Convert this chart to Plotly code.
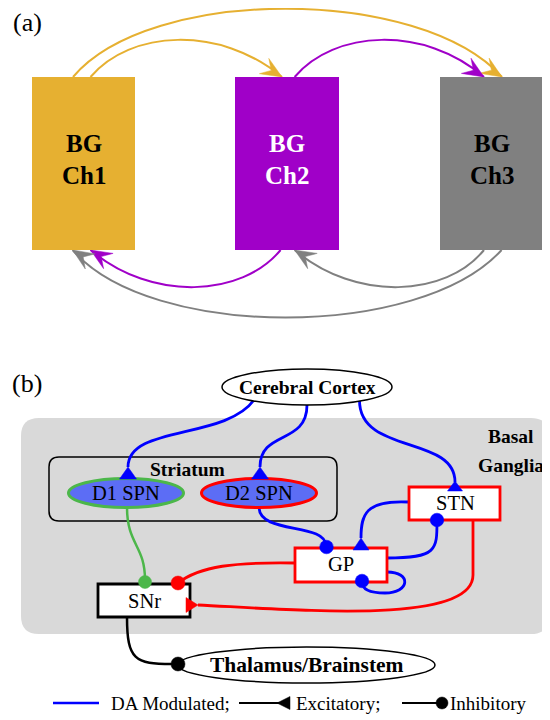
import math
import plotly.graph_objects as go

# ---------------- data ----------------
panel_labels = ["(a)", "(b)"]
channel_names = ["Ch1", "Ch2", "Ch3"]
channel_colors = ["#E6B031", "#A000C8", "#808080"]
channel_text_colors = ["#000000", "#FFFFFF", "#000000"]
# cross-channel projections: (source index, target index, colour index)
projections_top = [(0, 2, 0), (0, 1, 0), (1, 2, 1)]
projections_bottom = [(1, 0, 1), (2, 1, 2), (2, 0, 2)]

node_labels = ["Cerebral Cortex", "Striatum", "D1 SPN", "D2 SPN", "STN", "GP", "SNr",
               "Thalamus/Brainstem"]
region_label = ["Basal", "Ganglia"]
legend_labels = ["DA Modulated;", "Excitatory;", "Inhibitory"]

FONT = "Liberation Serif"
BLUE = "#0000FF"
RED = "#FF0000"
GREEN = "#4CB74A"
BLACK = "#000000"
SPN_FILL = "#5C6DF5"

# the page body has an 8px default margin: shift the coordinate frame so that
# coordinates equal window pixels
OFF = 8

shapes = []
annotations = []


def add_path(d, color, width, fill=None):
    s = dict(type="path", path=d, xref="x", yref="y",
             line=dict(color=color, width=width))
    if fill:
        s["fillcolor"] = fill
    shapes.append(s)


def bez_path(p, move=True):
    s = "C %.1f,%.1f %.1f,%.1f %.1f,%.1f" % (
        p[1][0], p[1][1], p[2][0], p[2][1], p[3][0], p[3][1])
    if move:
        s = "M %.1f,%.1f " % p[0] + s
    return s


def bez_pt(p, t):
    a = (1 - t) ** 3
    b = 3 * (1 - t) ** 2 * t
    c = 3 * (1 - t) * t ** 2
    d = t ** 3
    return (a * p[0][0] + b * p[1][0] + c * p[2][0] + d * p[3][0],
            a * p[0][1] + b * p[1][1] + c * p[2][1] + d * p[3][1])


def stealth(tip, frm, color, L=21, W=9, notch=0.6):
    dx, dy = tip[0] - frm[0], tip[1] - frm[1]
    n = math.hypot(dx, dy)
    dx, dy = dx / n, dy / n
    nx, ny = -dy, dx
    pts = [tip,
           (tip[0] - L * dx + W * nx, tip[1] - L * dy + W * ny),
           (tip[0] - notch * L * dx, tip[1] - notch * L * dy),
           (tip[0] - L * dx - W * nx, tip[1] - L * dy - W * ny)]
    d = "M " + " L ".join("%.1f,%.1f" % q for q in pts) + " Z"
    shapes.append(dict(type="path", path=d, xref="x", yref="y",
                       fillcolor=color, line=dict(color=color, width=0.5)))


def tri(apex, base_c, hw, color):
    dx, dy = base_c[0] - apex[0], base_c[1] - apex[1]
    n = math.hypot(dx, dy)
    nx, ny = -dy / n, dx / n
    pts = [apex, (base_c[0] + hw * nx, base_c[1] + hw * ny),
           (base_c[0] - hw * nx, base_c[1] - hw * ny)]
    d = "M " + " L ".join("%.1f,%.1f" % q for q in pts) + " Z"
    shapes.append(dict(type="path", path=d, xref="x", yref="y",
                       fillcolor=color, line=dict(color=color, width=0.5)))


def dot(c, r, color):
    shapes.append(dict(type="circle", xref="x", yref="y",
                       x0=c[0] - r, x1=c[0] + r, y0=c[1] - r, y1=c[1] + r,
                       fillcolor=color, line=dict(color=color, width=0.5)))


def ellipse(cx, cy, rx, ry, fill, color, width):
    shapes.append(dict(type="circle", xref="x", yref="y",
                       x0=cx - rx, x1=cx + rx, y0=cy - ry, y1=cy + ry,
                       fillcolor=fill, line=dict(color=color, width=width)))


def rect(x0, y0, x1, y1, fill, color, width):
    shapes.append(dict(type="rect", xref="x", yref="y", x0=x0, x1=x1, y0=y0, y1=y1,
                       fillcolor=fill, line=dict(color=color, width=width)))


def rrect(x0, y0, x1, y1, r):
    return ("M %g,%g L %g,%g Q %g,%g %g,%g L %g,%g Q %g,%g %g,%g L %g,%g Q %g,%g %g,%g "
            "L %g,%g Q %g,%g %g,%g Z") % (
        x0 + r, y0, x1 - r, y0, x1, y0, x1, y0 + r, x1, y1 - r, x1, y1, x1 - r, y1,
        x0 + r, y1, x0, y1, x0, y1 - r, x0, y0 + r, x0, y0, x0 + r, y0)


def text(x, y, s, size, color=BLACK, bold=False, xanchor="center"):
    annotations.append(dict(x=x, y=y, xref="x", yref="y", showarrow=False,
                            text=("<b>%s</b>" % s) if bold else s,
                            xanchor=xanchor, yanchor="middle",
                            font=dict(family=FONT, size=size, color=color)))


# ---------------- panel (a) ----------------
text(27, 22, panel_labels[0], 26)
box_x = [(32, 135), (235, 339), (440, 543)]
box_top, box_bot = 77, 250

top_curves = {
    (0, 2): [(73, 77), (150, -14), (420, -14), (502, 77)],
    (0, 1): [(90.5, 77), (130, 30), (220, 25), (282, 77)],
    (1, 2): [(294.6, 77), (334, 30), (424, 25), (484, 77)],
}
bottom_curves = {
    (1, 0): [(280.6, 250), (242, 297), (152, 302), (90.5, 250)],
    (2, 1): [(484, 250), (446, 297), (356, 302), (294.6, 250)],
    (2, 0): [(501.6, 250), (420, 340), (150, 340), (72.6, 250)],
}
for (s, t, c) in projections_top + projections_bottom:
    p = top_curves.get((s, t)) or bottom_curves.get((s, t))
    add_path(bez_path(p), channel_colors[c], 2)
    stealth(p[3], bez_pt(p, 0.8), channel_colors[c])

for i, name in enumerate(channel_names):
    x0, x1 = box_x[i]
    rect(x0, box_top, x1, box_bot, channel_colors[i], channel_colors[i], 0)
    cx = (x0 + x1) / 2
    text(cx, 143, "BG", 25, channel_text_colors[i], bold=True)
    text(cx, 175, name, 25, channel_text_colors[i], bold=True)

# ---------------- panel (b) ----------------
text(27, 383, panel_labels[1], 26)
shapes.append(dict(type="path", path=rrect(21, 418, 549, 634, 18), xref="x", yref="y",
                   fillcolor="#D9D9D9", line=dict(width=0), layer="below"))
text(511, 436, region_label[0], 19.5, bold=True)
text(511, 465, region_label[1], 19.5, bold=True)

# striatum container
add_path(rrect(49, 457, 337, 521, 10), BLACK, 1.5)
text(187, 469, node_labels[1], 19.5, bold=True)

# connections
c_d1 = [(254, 400), (225, 440), (128, 425), (128, 467)]
c_d2 = [(307, 405), (307, 445), (260, 430), (260, 467)]
c_stn = [(359.5, 400), (359, 455), (455, 435), (455, 482)]
d2_gp = [(259, 507), (259, 535), (326, 522), (326, 546)]
stn_gp = [(408, 502), (365, 500), (361, 515), (361, 538)]
gp_stn = [(387, 558), (437, 558), (437, 550), (437, 521)]
d1_snr = [(127, 507), (127, 545), (145, 545), (145, 580)]
gp_snr = [(295, 563), (235, 562), (200, 566), (178, 583)]
stn_snr = [(473, 575), (473, 625), (300, 610), (198, 605)]
snr_th = [(127, 617), (127, 660), (135, 664), (172, 664)]

for p in (c_d1, c_d2, c_stn, d2_gp, stn_gp, gp_stn):
    add_path(bez_path(p), BLUE, 2.8)
add_path("M 387,572 C 412,572 410,593 385,593 C 370,593 362,590 362,582", BLUE, 2.8)
add_path(bez_path(d1_snr), GREEN, 2.5)
add_path(bez_path(gp_snr), RED, 2.8)
add_path("M 473,519 L 473,575 " + bez_path(stn_snr, move=False), RED, 2.8)
add_path(bez_path(snr_th), BLACK, 2.5)

# nodes
ellipse(307, 387, 85, 18, "#FFFFFF", BLACK, 1.5)
text(307, 387, node_labels[0], 19.5, bold=True)
ellipse(126, 493, 57.5, 14.5, SPN_FILL, GREEN, 3)
text(126, 493, node_labels[2], 20.5)
ellipse(259, 493, 57.5, 14.5, SPN_FILL, RED, 3)
text(259, 493, node_labels[3], 20.5)
rect(409, 487, 500, 520, "#FFFFFF", RED, 2.8)
text(455, 503, node_labels[4], 20.5)
rect(295, 548, 387, 582, "#FFFFFF", RED, 2.8)
text(341, 564, node_labels[5], 20.5)
rect(98, 584, 190, 617, "#FFFFFF", BLACK, 2.8)
text(144, 601, node_labels[6], 20.5)
ellipse(306.5, 665, 128.5, 18, "#FFFFFF", BLACK, 1.5)
text(307, 665, node_labels[7], 21.5, bold=True)

# synapse markers
tri((128, 467), (128, 479), 8.5, BLUE)
tri((260, 467), (260, 479), 8.5, BLUE)
tri((455, 481), (455, 491), 7.5, BLUE)
tri((361, 538), (361, 550), 8, BLUE)
tri((198, 605), (186, 605), 7.5, RED)
dot((326.5, 547), 6.8, BLUE)
dot((437, 520), 6.8, BLUE)
dot((362, 581), 6.8, BLUE)
dot((145, 582), 6.5, GREEN)
dot((178, 583), 7, RED)
dot((178, 664), 7, BLACK)

# legend
add_path("M 53,703 L 99,703", BLUE, 2.5)
text(109, 703, legend_labels[0], 19, xanchor="left")
add_path("M 239,703 L 280,703", BLACK, 2)
tri((277, 703), (290, 703), 6.5, BLACK)
text(294, 703, legend_labels[1], 19, xanchor="left")
add_path("M 402,703 L 440,703", BLACK, 2)
dot((442, 703), 6, BLACK)
text(448, 703, legend_labels[2], 19, xanchor="left")

fig = go.Figure()
fig.update_layout(
    width=550, height=720,
    margin=dict(l=0, r=0, t=0, b=0),
    paper_bgcolor="white", plot_bgcolor="white",
    xaxis=dict(range=[OFF, 550 + OFF], visible=False, fixedrange=True),
    yaxis=dict(range=[720 + OFF, OFF], visible=False, fixedrange=True),
    shapes=shapes, annotations=annotations, showlegend=False,
)
fig.write_html("out.html")
